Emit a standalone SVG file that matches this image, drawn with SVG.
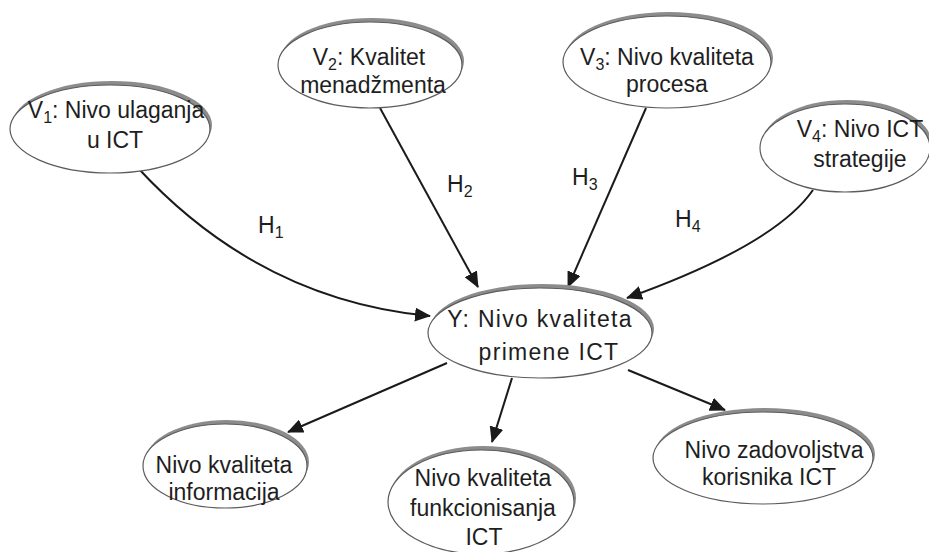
<svg xmlns="http://www.w3.org/2000/svg" width="929" height="552" viewBox="0 0 929 552">
<style>
.sh{fill:#8c8c8c;stroke:none}
.el{fill:#fff;stroke:#5c5c5c;stroke-width:1.2}
.t{font-family:"Liberation Sans",Arial,sans-serif;font-size:23px;fill:#1e1e1e;text-anchor:middle}
.ts{font-family:"Liberation Sans",Arial,sans-serif;font-size:23px;fill:#1e1e1e}
.sub{font-size:16px}
.sp{letter-spacing:1.3px}
.c{fill:none;stroke:#1a1a1a;stroke-width:2;marker-end:url(#ah)}
</style>
<defs>
<marker id="ah" markerUnits="userSpaceOnUse" viewBox="0 0 16 14" refX="15" refY="7" markerWidth="16" markerHeight="14" orient="auto">
<path d="M0,0 L16,7 L0,14 z" fill="#1a1a1a"/>
</marker>
</defs>
<g id="connectors">
<path class="c" d="M138,168 Q260,300 430,316"/>
<path class="c" d="M380,108 L478,287"/>
<path class="c" d="M646,108 L568,287"/>
<path class="c" d="M813,190 Q775,245 627,298"/>
<path class="c" d="M447,363 L288,432"/>
<path class="c" d="M512,378 L492,442"/>
<path class="c" d="M628,370 L725,410"/>
</g>
<g id="labels">
<text class="ts" x="258" y="233">H<tspan class="sub" dy="5">1</tspan></text>
<text class="ts" x="447" y="192">H<tspan class="sub" dy="5">2</tspan></text>
<text class="ts" x="572" y="185">H<tspan class="sub" dy="5">3</tspan></text>
<text class="ts" x="675" y="227">H<tspan class="sub" dy="5">4</tspan></text>
</g>
<g id="v1">
<ellipse class="sh" cx="112" cy="125" rx="100" ry="44"/>
<ellipse class="el" cx="110" cy="129" rx="100" ry="44"/>
<text class="t" x="116" y="118">V<tspan class="sub" dy="5">1</tspan><tspan dy="-5">: Nivo ulaganja</tspan></text>
<text class="t" x="115" y="148">u ICT</text>
</g>
<g id="v2">
<ellipse class="sh" cx="372" cy="61" rx="92" ry="43"/>
<ellipse class="el" cx="370" cy="65" rx="92" ry="43"/>
<text class="t" x="369" y="65">V<tspan class="sub" dy="5">2</tspan><tspan dy="-5">: Kvalitet</tspan></text>
<text class="t" x="373" y="93">menadžmenta</text>
</g>
<g id="v3">
<ellipse class="sh" cx="669" cy="58" rx="104" ry="46"/>
<ellipse class="el" cx="667" cy="62" rx="104" ry="46"/>
<text class="t" x="667" y="65">V<tspan class="sub" dy="5">3</tspan><tspan dy="-5">: Nivo kvaliteta</tspan></text>
<text class="t" x="667" y="92">procesa</text>
</g>
<g id="v4">
<ellipse class="sh" cx="847" cy="144" rx="85" ry="44"/>
<ellipse class="el" cx="845" cy="148" rx="85" ry="44"/>
<text class="t" x="860" y="137">V<tspan class="sub" dy="5">4</tspan><tspan dy="-5">: Nivo ICT</tspan></text>
<text class="t" x="860" y="167">strategije</text>
</g>
<g id="y">
<ellipse class="sh" cx="542" cy="329" rx="112" ry="45"/>
<ellipse class="el" cx="540" cy="333" rx="112" ry="45"/>
<text class="t sp" x="540" y="327">Y: Nivo kvaliteta</text>
<text class="t sp" x="549" y="360">primene ICT</text>
</g>
<g id="n1">
<ellipse class="sh" cx="227" cy="462" rx="82" ry="42"/>
<ellipse class="el" cx="225" cy="466" rx="82" ry="42"/>
<text class="t" x="224" y="473">Nivo kvaliteta</text>
<text class="t" x="224" y="500">informacija</text>
</g>
<g id="n2">
<ellipse class="sh" cx="483" cy="498" rx="93" ry="52"/>
<ellipse class="el" cx="481" cy="502" rx="93" ry="52"/>
<text class="t" x="483" y="486">Nivo kvaliteta</text>
<text class="t" x="483" y="516">funkcionisanja</text>
<text class="t" x="484" y="545">ICT</text>
</g>
<g id="n3">
<ellipse class="sh" cx="765" cy="454" rx="110" ry="46"/>
<ellipse class="el" cx="763" cy="458" rx="110" ry="46"/>
<text class="t" x="774" y="458">Nivo zadovoljstva</text>
<text class="t" x="769" y="485">korisnika ICT</text>
</g>
</svg>
